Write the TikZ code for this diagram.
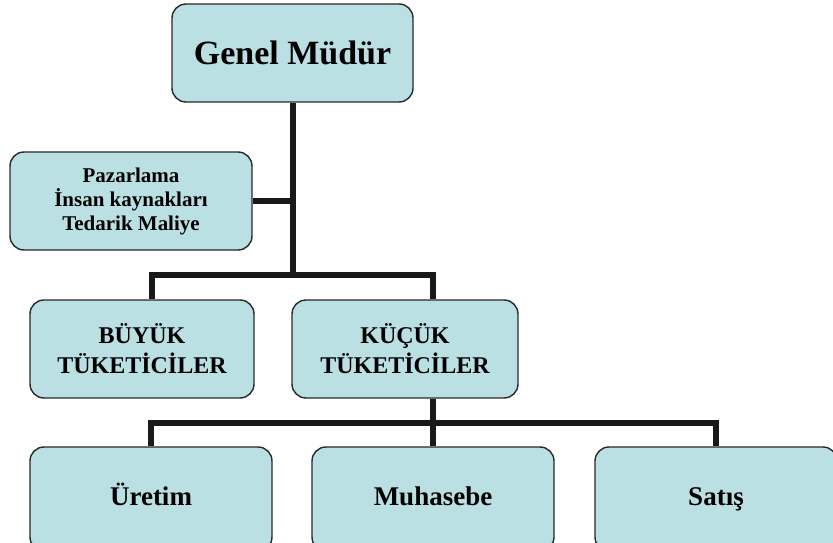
\documentclass[tikz,border=0pt]{standalone}
\usepackage{fontspec}
\setmainfont{Liberation Serif}
\definecolor{boxfill}{RGB}{187,224,227}
\definecolor{boxline}{RGB}{40,40,40}
\begin{document}
\begin{tikzpicture}[x=1pt,y=-1pt,
  box/.style={draw=boxline, line width=1.4pt, fill=boxfill, rounded corners=14pt, align=center, inner sep=0pt},
  bottombox/.style={box, minimum width=242pt, minimum height=104pt, text height=19pt, text depth=6pt, font=\bfseries\fontsize{27}{30}\selectfont},
  conn/.style={line width=6pt, draw=black!90, line join=miter}]
\useasboundingbox (0,0) rectangle (833,543);
\clip (0,0) rectangle (833,543);
\node[box, minimum width=241pt, minimum height=98pt, font=\bfseries\fontsize{34}{40}\selectfont] (gm) at (292.5,53) {Genel Müdür};
\node[box, minimum width=242pt, minimum height=98pt, font=\bfseries\fontsize{21}{24}\selectfont] (lb) at (131,201) {Pazarlama\\İnsan kaynakları\\Tedarik Maliye};
\node[box, minimum width=224pt, minimum height=98pt, font=\bfseries\fontsize{24}{30}\selectfont] (bt) at (142,349) {BÜYÜK\\TÜKETİCİLER};
\node[box, minimum width=226pt, minimum height=98pt, font=\bfseries\fontsize{24}{30}\selectfont] (kt) at (405,349) {KÜÇÜK\\TÜKETİCİLER};
\node[bottombox] (ur) at (151,499) {Üretim};
\node[bottombox] (mu) at (433,499) {Muhasebe};
\node[bottombox] (sa) at (716,499) {Satış};
\coordinate (b1) at (292.5,275);
\coordinate (b2) at (433,423);
\draw[conn] (gm.south) -- (b1);
\draw[conn] (lb.east) -- (lb.east -| gm.south);
\draw[conn] ([xshift=10pt]bt.north) |- (b1) -| ([xshift=28pt]kt.north);
\draw[conn] ([xshift=28pt]kt.south) -- (mu.north);
\draw[conn] (ur.north) |- (b2) -| (sa.north);
\end{tikzpicture}
\end{document}
